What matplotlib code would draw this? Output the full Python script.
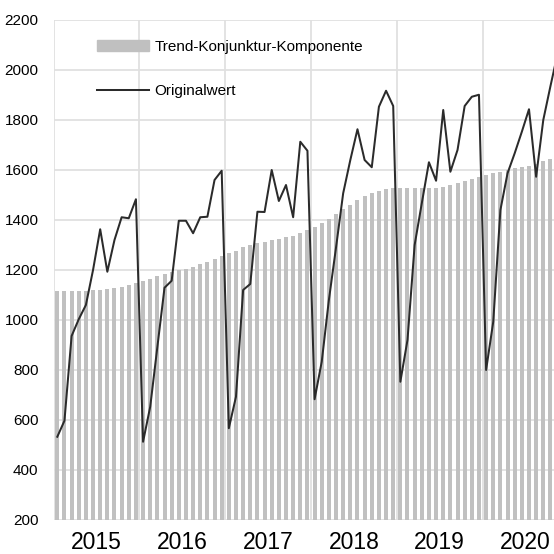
import numpy as np
import matplotlib.pyplot as plt
from matplotlib.patches import Patch
from matplotlib.lines import Line2D

# monthly values Jan 2015 - Nov 2020 (last month cut off by the axis edge)
years = ['2015', '2016', '2017', '2018', '2019', '2020']
trend = [1116, 1116, 1116, 1116, 1116, 1118, 1120, 1123, 1128, 1133, 1140, 1149,
         1157, 1165, 1176, 1184, 1193, 1200, 1205, 1213, 1224, 1233, 1245, 1257,
         1267, 1277, 1291, 1300, 1307, 1313, 1320, 1325, 1331, 1336, 1347, 1360,
         1373, 1387, 1403, 1423, 1443, 1461, 1480, 1496, 1507, 1517, 1525, 1528,
         1529, 1529, 1529, 1529, 1527, 1527, 1533, 1539, 1547, 1555, 1564, 1573,
         1579, 1587, 1593, 1600, 1608, 1611, 1617, 1624, 1637, 1644, 1650]
original = [533, 597, 936, 1003, 1060, 1200, 1363, 1193, 1320, 1411, 1407, 1483,
            513, 653, 892, 1129, 1157, 1397, 1397, 1347, 1411, 1413, 1560, 1597,
            567, 693, 1120, 1144, 1433, 1432, 1600, 1476, 1540, 1411, 1713, 1677,
            683, 833, 1080, 1290, 1507, 1640, 1763, 1640, 1611, 1853, 1917, 1856,
            753, 920, 1300, 1467, 1631, 1557, 1840, 1593, 1680, 1856, 1893, 1901,
            800, 993, 1440, 1587, 1667, 1753, 1843, 1573, 1800, 1935, 2065]

x = np.arange(len(trend))

plt.rcParams['font.family'] = ['Liberation Sans Narrow', 'Liberation Sans', 'DejaVu Sans']

fig = plt.figure(figsize=(5.54, 5.54), dpi=100)
ax = fig.add_axes([0.097, 0.0614, 0.903, 0.9025])

ax.bar(x, trend, width=0.56, color='#c0c0c0', zorder=2)
ax.plot(x, original, color='#2b2b2b', lw=1.45, zorder=3)

ax.set_xlim(-0.5, 69.5)
ax.set_ylim(200, 2200)
ax.set_yticks(np.arange(200, 2201, 200))
ax.set_xticks(np.arange(len(years)) * 12 + 5.5)
ax.set_xticklabels(years, fontsize=16.5)
ax.set_xticks(np.arange(len(years)) * 12 - 0.5, minor=True)

ax.grid(axis='y', which='major', color='#e0e0e0', lw=1.3, zorder=0)
ax.grid(axis='x', which='minor', color='#e0e0e0', lw=1.3, zorder=0)
ax.grid(axis='x', which='major', visible=False)
ax.tick_params(axis='both', which='both', length=0)
ax.tick_params(axis='y', labelsize=11, pad=11)
ax.tick_params(axis='x', pad=8)
for s in ax.spines.values():
    s.set_visible(False)

handles = [Patch(color='#c0c0c0'), Line2D([], [], color='#2b2b2b', lw=1.45)]
ax.legend(handles, ['Trend-Konjunktur-Komponente', 'Originalwert'],
          loc='upper left', bbox_to_anchor=(97 / 554, 1 - 40 / 554),
          bbox_transform=fig.transFigure, frameon=False, fontsize=11,
          handlelength=3.4, handleheight=0.7, handletextpad=0.35,
          labelspacing=1.98, borderpad=0, borderaxespad=0)

fig.savefig('out.png', dpi=100)
